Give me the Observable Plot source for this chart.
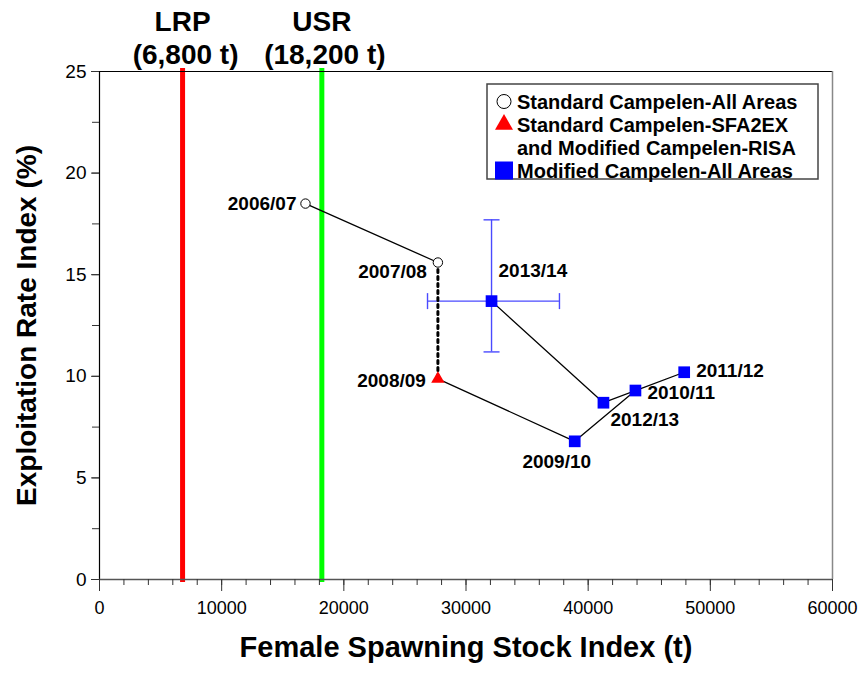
<!DOCTYPE html>
<html><head><meta charset="utf-8">
<script src="https://cdn.jsdelivr.net/npm/d3@7"></script>
<script src="https://cdn.jsdelivr.net/npm/@observablehq/plot@0.6"></script>
<style>body{margin:0;background:#fff;} svg{display:block;}</style>
</head><body><div id="chart"></div>
<script>
// ---- data ----
const years = ["2006/07","2007/08","2008/09","2009/10","2010/11","2011/12","2012/13","2013/14"];
const ssb   = [16860, 27700, 27700, 38900, 43870, 47860, 41250, 32090];
const eri   = [18.5, 15.6, 9.87, 6.8, 9.3, 10.2, 8.7, 13.7];
const seriesOf = ["std","std","sfa","mod","mod","mod","mod","mod"];
const seriesNames = ["Standard Campelen-All Areas", "Standard Campelen-SFA2EX", "and Modified Campelen-RISA", "Modified Campelen-All Areas"];
// error bars for 2013/14
const errYear = "2013/14";
const errXlo = 26850, errXhi = 37650;
const errYlo = 11.2, errYhi = 17.7;
// reference points
const refNames  = ["LRP", "USR"];
const refValues = [6800, 18200];
const refLabels = ["(6,800 t)", "(18,200 t)"];
const refColors = ["#ff0000", "#00ff00"];
// axes
const xTicks = [0, 10000, 20000, 30000, 40000, 50000, 60000];
const xMinor = d3.range(0, 60001, 2000);
const yTicks = [0, 5, 10, 15, 20, 25];
const yMinor = [0, 2.5, 5, 7.5, 10, 12.5, 15, 17.5, 20, 22.5, 25];
const xTitle = "Female Spawning Stock Index (t)";
const yTitle = "Exploitation Rate Index (%)";

// ---- tables ----
const pts = years.map((yr, i) => ({year: yr, x: ssb[i], y: eri[i], s: seriesOf[i], i}));
const solid = [
  ...pts.slice(0, 2).map(d => ({...d, seg: "a"})),
  ...pts.slice(2).map(d => ({...d, seg: "b"}))
];
const dotted = pts.slice(1, 3);
const eIdx = years.indexOf(errYear);
const ebar = [{x: ssb[eIdx], y: eri[eIdx], xlo: errXlo, xhi: errXhi, ylo: errYlo, yhi: errYhi}];
const refs = refNames.map((n, i) => ({name: n, value: refValues[i], label: refLabels[i], color: refColors[i]}));

const hcap = {draw(ctx, size) { const r = Math.sqrt(size / Math.PI); ctx.moveTo(-r, 0); ctx.lineTo(r, 0); }};
const vcap = {draw(ctx, size) { const r = Math.sqrt(size / Math.PI); ctx.moveTo(0, -r); ctx.lineTo(0, r); }};

const place = {
  "2006/07": {dx: -9,  dy: 0,   a: "end"},
  "2007/08": {dx: -11, dy: 9,   a: "end"},
  "2008/09": {dx: -12, dy: 2,   a: "end"},
  "2009/10": {dx: -18, dy: 21,  a: "middle"},
  "2010/11": {dx: 12,  dy: 2,   a: "start"},
  "2011/12": {dx: 12,  dy: -1,  a: "start"},
  "2012/13": {dx: 7,   dy: 17,  a: "start"},
  "2013/14": {dx: 7,   dy: -30, a: "start"}
};

const font = "'Liberation Sans', Arial, Helvetica, sans-serif";
const blue = "#0000ff";
const ebColor = "#4a4aff";

const chart = Plot.plot({
  width: 862, height: 675,
  marginLeft: 99, marginRight: 30, marginTop: 71, marginBottom: 96,
  style: {fontFamily: font, background: "#fff", color: "#000", overflow: "visible"},
  x: {domain: [0, 60000]},
  y: {domain: [0, 25]},
  marks: [
    // reference lines
    Plot.ruleX(refs, {x: "value", stroke: "color", strokeWidth: 5, insetTop: -3, insetBottom: -3}),
    Plot.text(refs, {x: "value", y: 25, text: "name", dy: -49, fontSize: 28, fontWeight: "bold", fill: "#000"}),
    Plot.text(refs, {x: "value", y: 25, text: "label", dx: 3, dy: -16, fontSize: 28, fontWeight: "bold", fill: "#000"}),
    // frame
    Plot.ruleY([25], {stroke: "#000", strokeWidth: 1.2}),
    Plot.ruleX([60000], {stroke: "#888", strokeWidth: 1.5}),
    Plot.ruleX([0], {stroke: "#000", strokeWidth: 1.2}),
    Plot.ruleY([0], {stroke: "#555", strokeWidth: 1.5}),
    // axes
    Plot.axisX(xMinor, {tickSize: 6, text: null, label: null, stroke: "#333"}),
    Plot.axisX(xTicks, {tickSize: 12, tickPadding: 10, fontSize: 18, label: null, tickFormat: d => String(d), stroke: "#333"}),
    Plot.axisY(yMinor, {tickSize: 7, text: null, label: null, stroke: "#333"}),
    Plot.axisY(yTicks, {tickSize: 8, tickPadding: 5, fontSize: 19, label: null, stroke: "#333"}),
    // error bars
    Plot.ruleX(ebar, {x: "x", y1: "ylo", y2: "yhi", stroke: ebColor, strokeWidth: 1.4}),
    Plot.ruleY(ebar, {y: "y", x1: "xlo", x2: "xhi", stroke: ebColor, strokeWidth: 1.4}),
    Plot.dot(ebar, {x: "x", y: "ylo", symbol: hcap, r: 8, stroke: ebColor, strokeWidth: 1.4}),
    Plot.dot(ebar, {x: "x", y: "yhi", symbol: hcap, r: 8, stroke: ebColor, strokeWidth: 1.4}),
    Plot.dot(ebar, {x: "xlo", y: "y", symbol: vcap, r: 8, stroke: ebColor, strokeWidth: 1.4}),
    Plot.dot(ebar, {x: "xhi", y: "y", symbol: vcap, r: 8, stroke: ebColor, strokeWidth: 1.4}),
    // connecting lines
    Plot.line(solid, {x: "x", y: "y", z: "seg", stroke: "#000", strokeWidth: 1.3}),
    Plot.line(dotted, {x: "x", y: "y", stroke: "#000", strokeWidth: 3, strokeDasharray: "3,4"}),
    // points
    Plot.dot(pts.filter(d => d.s === "std"), {x: "x", y: "y", symbol: "circle", r: 4.7, fill: "#fff", stroke: "#000", strokeWidth: 1}),
    Plot.dot(pts.filter(d => d.s === "sfa"), {x: "x", y: "y", symbol: "triangle", r: 5, fill: "#ff0000", stroke: "none"}),
    Plot.dot(pts.filter(d => d.s === "mod"), {x: "x", y: "y", symbol: "square", r: 6.6, fill: blue, stroke: "none"}),
    // point labels
    ...pts.map(d => Plot.text([d], {x: "x", y: "y", text: "year", dx: place[d.year].dx, dy: place[d.year].dy,
      textAnchor: place[d.year].a, fontSize: 19, fontWeight: "bold", fill: "#000"})),
    // axis titles
    Plot.text([xTitle], {frameAnchor: "bottom", dy: 77, text: d => d, textAnchor: "middle", fontSize: 29, fontWeight: "bold", fill: "#000"}),
    Plot.text([yTitle], {frameAnchor: "left", dx: -72, rotate: -90, text: d => d, textAnchor: "middle", fontSize: 28, fontWeight: "bold", fill: "#000"})
  ]
});

document.getElementById("chart").appendChild(chart);

// ---- legend (inside the plot area) ----
const svg = d3.select(chart);
const lg = svg.append("g").attr("font-family", font).attr("font-weight", "bold").attr("font-size", 20).attr("text-anchor", "start");
lg.append("rect").attr("x", 487).attr("y", 84).attr("width", 331).attr("height", 95)
  .attr("fill", "#fff").attr("stroke", "#444").attr("stroke-width", 1.5);
const lx = 504, tx = 517;
const rows = [101.5, 124.5, 147.5, 170.5];
lg.append("circle").attr("cx", lx).attr("cy", rows[0]).attr("r", 7).attr("fill", "#fff").attr("stroke", "#000").attr("stroke-width", 1);
lg.append("path").attr("d", d3.symbol(d3.symbolTriangle, 140)()).attr("transform", `translate(${lx},${rows[1]})`).attr("fill", "#ff0000");
lg.append("rect").attr("x", lx - 9).attr("y", rows[3] - 9).attr("width", 18).attr("height", 18).attr("fill", blue);
seriesNames.forEach((n, i) => {
  lg.append("text").attr("x", tx).attr("y", rows[i]).attr("dy", "0.35em").attr("fill", "#000").text(n);
});
</script>
</body></html>
